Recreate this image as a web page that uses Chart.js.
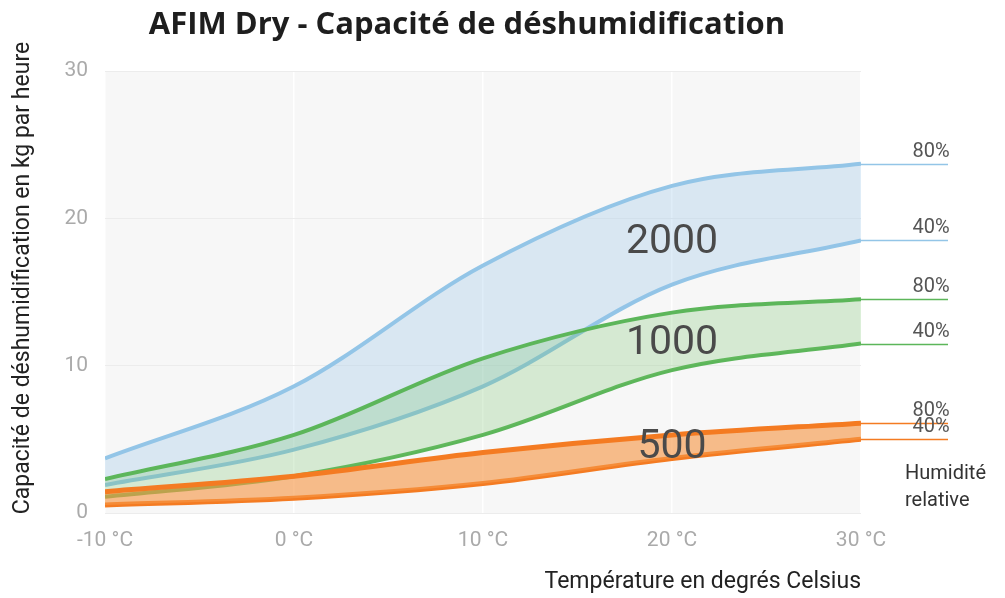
<!DOCTYPE html>
<html>
<head>
<meta charset="utf-8">
<script src="https://cdn.jsdelivr.net/npm/chart.js@4.4.1/dist/chart.umd.min.js"></script>
<style>
  html, body { margin: 0; padding: 0; background: #fff; }
  #wrap { width: 1005px; height: 598px; position: relative; }
</style>
</head>
<body>
<div id="wrap"><canvas id="chart"></canvas></div>
<script>
// Data
const temperatures = [-10, 0, 10, 20, 30];
const xTicks = [-10, 0, 10, 20, 30];
const yTicks = [0, 10, 20, 30];

const dry500_80 = [1.45, 2.5, 4.1, 5.3, 6.1];
const dry500_40 = [0.55, 1.0, 2.0, 3.7, 5.0];
const dry1000_80 = [2.3, 5.3, 10.5, 13.6, 14.5];
const dry1000_40 = [1.1, 2.5, 5.3, 9.7, 11.5];
const dry2000_80 = [3.7, 8.6, 16.8, 22.2, 23.7];
const dry2000_40 = [1.9, 4.3, 8.6, 15.5, 18.5];

const models = ['500', '1000', '2000'];
const humidityLabels = ['80%', '40%'];

// Colours
const colors = {
    blue: '#93c5e7',
    blueFill: 'rgba(150, 196, 232, 0.30)',
    green: '#5cb65a',
    greenFill: 'rgba(110, 190, 100, 0.25)',
    orange: '#f47b22',
    orangeFill: 'rgba(246, 150, 70, 0.62)',
    text: '#4a4a4a',
    tick: '#aaaaaa'
};

const toPoints = arr => arr.map((v, i) => ({ x: temperatures[i], y: v }));

function band(label, high, low, color, fill, width) {
    return [
        { label: label + ' 80%', data: toPoints(high), borderColor: color, backgroundColor: fill, borderWidth: width, fill: '+1' },
        { label: label + ' 40%', data: toPoints(low), borderColor: color, backgroundColor: fill, borderWidth: width, fill: false }
    ];
}

const datasets = [
    ...band('500', dry500_80, dry500_40, colors.orange, colors.orangeFill, 5),
    ...band('1000', dry1000_80, dry1000_40, colors.green, colors.greenFill, 4),
    ...band('2000', dry2000_80, dry2000_40, colors.blue, colors.blueFill, 4)
];

// Plot background
const plotBackground = {
    id: 'plotBackground',
    beforeDraw(chart) {
        const { ctx, chartArea: a } = chart;
        ctx.save();
        ctx.fillStyle = '#f7f7f7';
        ctx.fillRect(a.left, a.top, a.right - a.left, a.bottom - a.top);
        ctx.restore();
    }
};

// Titles, band labels and the humidity markers on the right
const annotations = {
    id: 'annotations',
    afterDraw(chart) {
        const { ctx, chartArea: a, scales: { x, y } } = chart;
        ctx.save();

        // Title
        ctx.fillStyle = '#1e1e1e';
        ctx.font = 'bold 31px "Open Sans", sans-serif';
        ctx.textAlign = 'center';
        ctx.textBaseline = 'middle';
        ctx.fillText('AFIM Dry - Capacité de déshumidification', 467, 25);

        // Axis titles
        ctx.fillStyle = '#222';
        ctx.font = '23px Roboto, sans-serif';
        ctx.textAlign = 'right';
        ctx.textBaseline = 'middle';
        ctx.fillText('Température en degrés Celsius', a.right, 582);

        ctx.save();
        ctx.translate(23, 278);
        ctx.rotate(-Math.PI / 2);
        ctx.textAlign = 'center';
        ctx.fillText('Capacité de déshumidification en kg par heure', 0, 0);
        ctx.restore();

        // Model labels in the middle of each band at 20 °C
        const bands = [[dry500_80, dry500_40], [dry1000_80, dry1000_40], [dry2000_80, dry2000_40]];
        const nudge = [1, 2, 7];
        ctx.fillStyle = colors.text;
        ctx.font = '41px Roboto, sans-serif';
        ctx.textAlign = 'center';
        ctx.textBaseline = 'middle';
        bands.forEach((b, i) => {
            const mid = (b[0][3] + b[1][3]) / 2;
            ctx.fillText(models[i], x.getPixelForValue(temperatures[3]), y.getPixelForValue(mid) + nudge[i]);
        });

        // Horizontal end markers
        const last = temperatures.length - 1;
        const ends = [
            [dry2000_80, colors.blue], [dry2000_40, colors.blue],
            [dry1000_80, colors.green], [dry1000_40, colors.green],
            [dry500_80, colors.orange], [dry500_40, colors.orange]
        ];
        ctx.font = '20px Roboto, sans-serif';
        ctx.textBaseline = 'bottom';
        ends.forEach(([arr, c], i) => {
            const py = Math.round(y.getPixelForValue(arr[last])) + 0.5;
            ctx.strokeStyle = c;
            ctx.lineWidth = 1.5;
            ctx.beginPath();
            ctx.moveTo(a.right, py);
            ctx.lineTo(948, py);
            ctx.stroke();
            ctx.fillStyle = '#555';
            ctx.fillText(humidityLabels[i % 2], 931, py - 3);
        });

        // Legend title
        ctx.fillStyle = '#333';
        ctx.font = '20px Roboto, sans-serif';
        ctx.textAlign = 'left';
        ctx.textBaseline = 'middle';
        ctx.fillText('Humidité', 905, 474);
        ctx.fillText('relative', 905, 501);

        ctx.restore();
    }
};

new Chart(document.getElementById('chart'), {
    type: 'line',
    data: { datasets },
    options: {
        responsive: true,
        maintainAspectRatio: false,
        animation: false,
        layout: { padding: { top: 71, right: 144, bottom: 0, left: 0 } },
        elements: {
            point: { radius: 0 },
            line: { cubicInterpolationMode: 'monotone', borderCapStyle: 'butt' }
        },
        plugins: {
            legend: { display: false },
            tooltip: { enabled: false },
            title: { display: false }
        },
        scales: {
            x: {
                type: 'linear',
                min: -10,
                max: 30,
                afterFit: s => { s.height = 85; },
                afterBuildTicks: s => { s.ticks = xTicks.map(v => ({ value: v })); },
                ticks: {
                    color: colors.tick,
                    font: { family: 'Roboto', size: 21 },
                    padding: 15,
                    callback: v => v + ' °C'
                },
                grid: { color: '#ffffff', lineWidth: 1.5, drawTicks: false },
                border: { display: false }
            },
            y: {
                min: 0,
                max: 30,
                afterFit: s => { s.width = 105; },
                afterBuildTicks: s => { s.ticks = yTicks.map(v => ({ value: v })); },
                ticks: {
                    color: colors.tick,
                    font: { family: 'Roboto', size: 21 },
                    padding: 17
                },
                grid: { color: '#ececec', lineWidth: 1, drawTicks: false },
                border: { display: false }
            }
        }
    },
    plugins: [plotBackground, annotations]
});
</script>
</body>
</html>
